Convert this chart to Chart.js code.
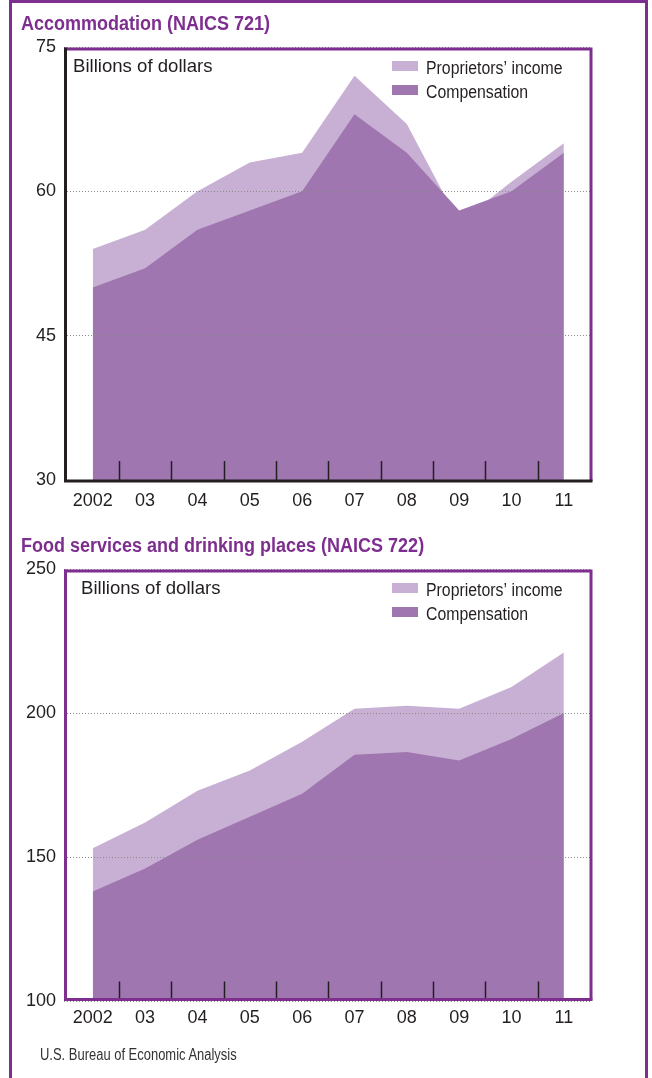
<!DOCTYPE html>
<html>
<head>
<meta charset="utf-8">
<script src="https://cdn.jsdelivr.net/npm/chart.js@4.4.1/dist/chart.umd.min.js"></script>
<style>
  body { margin: 0; background: #fff; font-family: "Liberation Sans", Arial, Helvetica, sans-serif; }
  #page { position: relative; width: 652px; height: 1078px; overflow: hidden; }
  #frame { position: absolute; left: 9px; top: 0; width: 633px; height: 1100px; border: 3px solid #7d2e8f; border-bottom: none; }
  canvas { position: absolute; left: 0; }
  .title { position: absolute; left: 21px; font-weight: bold; font-size: 20px; line-height: 20px; color: #7d2e8f;
           transform: scaleX(.9); transform-origin: 0 0; white-space: nowrap; }
  .source { position: absolute; left: 40px; top: 1047px; font-size: 16px; line-height: 16px; color: #333;
            transform: scaleX(.81); transform-origin: 0 0; white-space: nowrap; }
</style>
</head>
<body>
<div id="page">
  <div id="frame"></div>
  <canvas id="accom" width="652" height="530" style="top:0"></canvas>
  <canvas id="food" width="652" height="548" style="top:530px"></canvas>
  <div class="title" style="top:13px">Accommodation (NAICS 721)</div>
  <div class="title" style="top:535px">Food services and drinking places (NAICS 722)</div>
  <div class="source">U.S. Bureau of Economic Analysis</div>
</div>
<script>
// data, billions of dollars
const years = [2002, 2003, 2004, 2005, 2006, 2007, 2008, 2009, 2010, 2011];
const yearLabels = ['2002', '03', '04', '05', '06', '07', '08', '09', '10', '11'];

const accomComp = [50, 52, 56, 58, 60, 68, 64, 58, 60, 64];
const accomProp = [4, 4, 4, 5, 4, 4, 3, -1.3, 1, 1];
const accomTicks = [30, 45, 60, 75];

const foodComp = [138, 146, 156, 164, 172, 185.5, 186.5, 183.5, 191, 200];
const foodProp = [15, 16, 17, 16, 18, 16, 16, 18, 18, 21];
const foodTicks = [100, 150, 200, 250];

const PURPLE = '#7d2e8f';
const LIGHT = '#c8b0d4';
const DARK = '#a076b0';
const INK = '#231f20';

Chart.defaults.font.family = '"Liberation Sans", Arial, Helvetica, sans-serif';
Chart.defaults.color = INK;

// legend, unit label, year separators and frame of the plot box
const boxPlugin = {
  id: 'box',
  afterDraw(chart, args, opts) {
    const { ctx, chartArea: a, scales: { x } } = chart;
    ctx.save();

    // tick marks between years
    ctx.strokeStyle = INK;
    ctx.lineWidth = 1.5;
    for (let i = 0; i < years.length - 1; i++) {
      const px = Math.round(x.getPixelForValue(years[i] + 0.5)) + 0.5;
      ctx.beginPath();
      ctx.moveTo(px, opts.axisY);
      ctx.lineTo(px, opts.axisY - opts.tickLen);
      ctx.stroke();
    }

    // box
    ctx.lineWidth = 3;
    ctx.strokeStyle = PURPLE;
    ctx.beginPath();
    ctx.moveTo(a.left, a.top + 2);
    ctx.lineTo(a.right + 1, a.top + 2);
    ctx.lineTo(a.right + 1, opts.axisY);
    ctx.stroke();
    ctx.strokeStyle = opts.axisColor;
    ctx.beginPath();
    ctx.moveTo(a.left + 1.5, a.top + 0.5);
    ctx.lineTo(a.left + 1.5, opts.axisY);
    ctx.lineTo(a.right + 2.5, opts.axisY);
    ctx.stroke();

    // unit label
    ctx.fillStyle = INK;
    ctx.font = '18.6px "Liberation Sans", Arial, sans-serif';
    ctx.textBaseline = 'alphabetic';
    ctx.fillText('Billions of dollars', a.left + opts.unitDx, a.top + 25);

    // legend
    ctx.font = '18px "Liberation Sans", Arial, sans-serif';
    chart.data.datasets.forEach((ds, i) => {
      const y = a.top + 14 + i * 24;
      ctx.fillStyle = ds.backgroundColor;
      ctx.fillRect(a.right - 198, y, 26, 10);
      ctx.fillStyle = INK;
      ctx.save();
      ctx.translate(a.right - 164, y + 13);
      ctx.scale(0.88, 1);
      ctx.fillText(ds.label, 0, 0);
      ctx.restore();
    });
    ctx.restore();
  }
};

function makeChart(id, comp, prop, ticks, lay) {
  const total = comp.map((v, i) => v + prop[i]);
  const canvas = document.getElementById(id);
  return new Chart(canvas, {
    type: 'line',
    data: {
      datasets: [
        {
          label: 'Proprietors\u2019 income',
          data: years.map((yr, i) => ({ x: yr, y: total[i] })),
          backgroundColor: LIGHT,
          borderWidth: 0,
          borderColor: 'rgba(0,0,0,0)',
          fill: 'start',
          order: 2
        },
        {
          label: 'Compensation',
          data: years.map((yr, i) => ({ x: yr, y: comp[i] })),
          backgroundColor: DARK,
          borderWidth: 0,
          borderColor: 'rgba(0,0,0,0)',
          fill: 'start',
          order: 1
        }
      ]
    },
    options: {
      responsive: false,
      animation: false,
      events: [],
      elements: { point: { radius: 0 }, line: { tension: 0 } },
      layout: { padding: { left: 0, right: 62, top: lay.top, bottom: 0 } },
      plugins: {
        legend: { display: false },
        tooltip: { enabled: false },
        box: { axisY: lay.axisY, axisColor: lay.axisColor, tickLen: lay.tickLen, unitDx: lay.unitDx }
      },
      scales: {
        x: {
          type: 'linear',
          min: 2001.45,
          max: 2011.5,
          afterFit: s => { s.height = lay.xHeight; },
          afterBuildTicks: s => { s.ticks = years.map(v => ({ value: v })); },
          grid: { display: false },
          border: { display: false },
          ticks: {
            padding: lay.xPad,
            maxRotation: 0,
            autoSkip: false,
            font: { size: 18 },
            color: INK,
            callback: v => yearLabels[years.indexOf(v)]
          }
        },
        y: {
          min: ticks[0],
          max: ticks[ticks.length - 1],
          afterFit: s => { s.width = 64; },
          afterBuildTicks: s => { s.ticks = ticks.map(v => ({ value: v })); },
          grid: { color: '#8a8a8a', lineWidth: 1, drawTicks: false, z: 1 },
          border: { display: false, dash: [1, 2] },
          ticks: { padding: 8, font: { size: 18 }, color: INK }
        }
      }
    },
    plugins: [boxPlugin]
  });
}

makeChart('accom', accomComp, accomProp, accomTicks,
  { top: 47, xHeight: 50, xPad: 2, axisY: 481, axisColor: INK, tickLen: 20, unitDx: 9 });
makeChart('food', foodComp, foodProp, foodTicks,
  { top: 39, xHeight: 77, xPad: -2, axisY: 469.5, axisColor: PURPLE, tickLen: 18, unitDx: 17 });
</script>
</body>
</html>
